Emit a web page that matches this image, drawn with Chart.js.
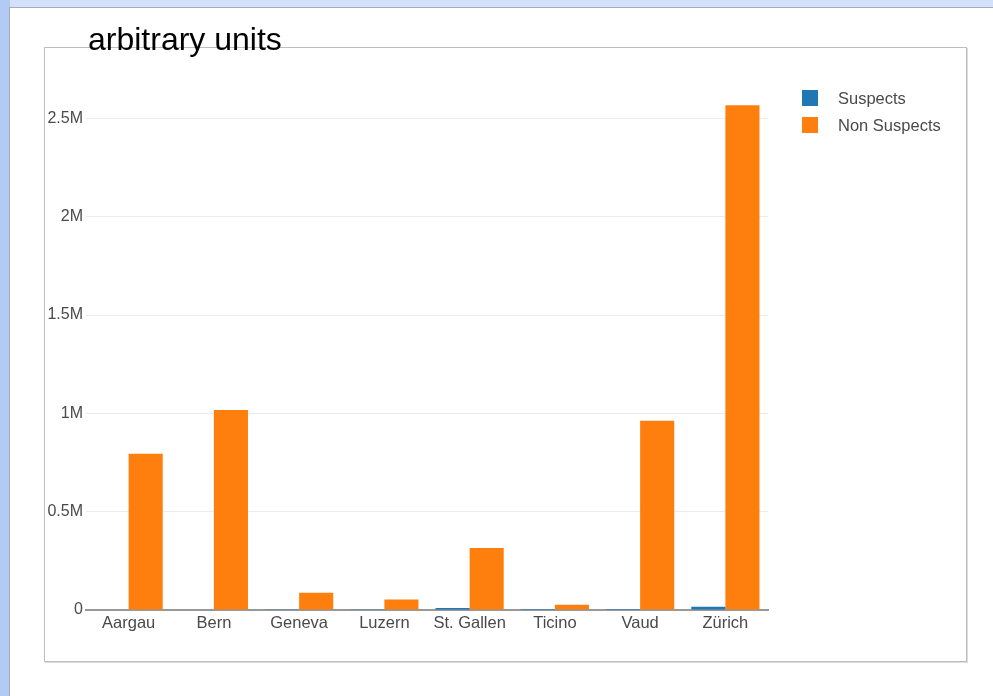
<!DOCTYPE html>
<html>
<head>
<meta charset="utf-8">
<script src="https://cdn.jsdelivr.net/npm/chart.js"></script>
<style>
  html, body { margin: 0; padding: 0; }
  body { width: 993px; height: 696px; background: #d3e1fa; position: relative; overflow: hidden; }
  #leftStrip { position: absolute; left: 0; top: 0; width: 10px; height: 696px; background: #b3caf2; }
  #panel { position: absolute; left: 9px; top: 7px; right: 0; bottom: 0; background: #fff;
           border-left: 1px solid #a5adbb; border-top: 1px solid #a5adbb; }
  #frame { position: absolute; left: 44px; top: 47px; width: 921px; height: 613px;
           border: 1px solid #bdbdbd; box-shadow: 1px 1px 0 #dcdcdc; }
  #title { position: absolute; left: 88px; top: 23px; font: 32px/32px "Liberation Sans", Arial, sans-serif;
           color: #000; white-space: nowrap; }
  #chart { position: absolute; left: 0; top: 0; }
</style>
</head>
<body>
<div id="leftStrip"></div>
<div id="panel"></div>
<div id="frame"></div>
<canvas id="chart" width="993" height="696"></canvas>
<div id="title">arbitrary units</div>
<script>
const cantons = ['Aargau', 'Bern', 'Geneva', 'Luzern', 'St. Gallen', 'Ticino', 'Vaud', 'Zürich'];
const suspects = [2500, 2000, 900, 700, 10500, 400, 4500, 17000];
const nonSuspects = [795000, 1017000, 88000, 54000, 315000, 27000, 962000, 2566000];
const yTicks = [0, 500000, 1000000, 1500000, 2000000, 2500000];
const yTickLabels = ['0', '0.5M', '1M', '1.5M', '2M', '2.5M'];

const seriesNames = ['Suspects', 'Non Suspects'];
const seriesColors = ['#1f77b4', '#ff7f0e'];

const textFont = '"Liberation Sans", Arial, sans-serif';
const textColor = '#4a4a4a';

// legend drawn by hand: square swatch, wider gap before the text
const sideLegend = {
    id: 'sideLegend',
    afterDraw(chart) {
        const ctx = chart.ctx;
        const x = chart.chartArea.right + 34;
        ctx.save();
        ctx.font = '16.5px ' + textFont;
        ctx.textBaseline = 'middle';
        chart.data.datasets.forEach((ds, i) => {
            const y = 90 + i * 27;
            ctx.fillStyle = ds.backgroundColor;
            ctx.fillRect(x, y, 16, 16);
            ctx.fillStyle = textColor;
            ctx.fillText(ds.label, x + 36, y + 9);
        });
        ctx.restore();
    }
};

new Chart(document.getElementById('chart'), {
    type: 'bar',
    data: {
        labels: cantons,
        datasets: [
            { label: seriesNames[0], data: suspects, backgroundColor: seriesColors[0] },
            { label: seriesNames[1], data: nonSuspects, backgroundColor: seriesColors[1] }
        ]
    },
    options: {
        responsive: false,
        animation: false,
        layout: { padding: { top: 79, left: 40, right: 225, bottom: 56 } },
        datasets: { bar: { categoryPercentage: 0.8, barPercentage: 1.0 } },
        plugins: {
            legend: { display: false },
            tooltip: { enabled: false }
        },
        scales: {
            x: {
                grid: { display: false, drawTicks: false },
                border: { display: true, color: '#999', width: 2 },
                ticks: { color: textColor, padding: 4, font: { size: 16.5, family: textFont } },
                afterFit(scale) { scale.height = 30; }
            },
            y: {
                min: 0,
                max: 2700000,
                grid: {
                    drawTicks: false,
                    color: c => (c.tick && c.tick.value === 0) ? 'rgba(0,0,0,0)' : '#ebebeb'
                },
                border: { display: false },
                afterBuildTicks(scale) { scale.ticks = yTicks.map(v => ({ value: v })); },
                ticks: {
                    color: textColor,
                    padding: 3,
                    font: { size: 16, family: textFont },
                    callback: v => yTickLabels[yTicks.indexOf(v)]
                },
                afterFit(scale) { scale.width = 46; }
            }
        }
    },
    plugins: [sideLegend]
});
</script>
</body>
</html>
